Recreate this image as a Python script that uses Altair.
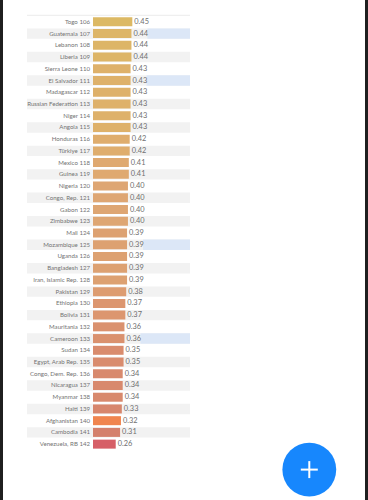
import altair as alt
import pandas as pd

# Countries ranked 106-142 and their index scores
countries = [
    "Togo", "Guatemala", "Lebanon", "Liberia", "Sierra Leone", "El Salvador",
    "Madagascar", "Russian Federation", "Niger", "Angola", "Honduras", "Türkiye",
    "Mexico", "Guinea", "Nigeria", "Congo, Rep.", "Gabon", "Zimbabwe", "Mali",
    "Mozambique", "Uganda", "Bangladesh", "Iran, Islamic Rep.", "Pakistan",
    "Ethiopia", "Bolivia", "Mauritania", "Cameroon", "Sudan", "Egypt, Arab Rep.",
    "Congo, Dem. Rep.", "Nicaragua", "Myanmar", "Haiti", "Afghanistan",
    "Cambodia", "Venezuela, RB",
]
ranks = list(range(106, 143))
scores = [
    0.45, 0.44, 0.44, 0.44, 0.43, 0.43, 0.43, 0.43, 0.43, 0.43, 0.42, 0.42,
    0.41, 0.41, 0.40, 0.40, 0.40, 0.40, 0.39, 0.39, 0.39, 0.39, 0.39, 0.38,
    0.37, 0.37, 0.36, 0.36, 0.35, 0.35, 0.34, 0.34, 0.34, 0.33, 0.32, 0.31,
    0.26,
]
highlighted = ["Guatemala", "El Salvador", "Mozambique", "Cameroon"]
accent = "Afghanistan"

df = pd.DataFrame({"country": countries, "rank": ranks, "score": scores})
df["label"] = df["country"] + " " + df["rank"].astype(str)
df["row"] = range(len(df))
df["striped"] = df["row"] % 2 == 1
df["highlight"] = df["country"].isin(highlighted)

order = df["label"].tolist()
y_enc = alt.Y("label:N", sort=order, axis=None,
              scale=alt.Scale(paddingInner=0, paddingOuter=0))
x_scale = alt.Scale(domain=[0, 1.11], nice=False, zero=True)

base = alt.Chart(df)

stripes = base.transform_filter("datum.striped").mark_bar(
    size=10.4, color="#f2f2f2"
).encode(y=y_enc, x=alt.value(-66), x2=alt.value(97))

blue = base.transform_filter("datum.highlight").transform_calculate(
    start="datum.score + 0.183", stop="1.11"
).mark_bar(size=10.4, color="#dce7f7").encode(
    y=y_enc,
    x=alt.X("start:Q", scale=x_scale, axis=None),
    x2="stop:Q",
)

color_scale = alt.Scale(
    domain=[0.26, 0.31, 0.35, 0.40, 0.45],
    range=["#d65f67", "#d4806c", "#d98c6e", "#dea673", "#dcb964"],
)
bars = base.mark_bar(size=9).encode(
    y=y_enc,
    x=alt.X("score:Q", scale=x_scale, axis=None),
    color=alt.condition(
        alt.datum.country == accent,
        alt.value("#f0854f"),
        alt.Color("score:Q", scale=color_scale, legend=None),
    ),
)

values = base.mark_text(
    align="left", baseline="middle", dx=2, font="Lato", fontSize=7.4,
    color="#707070",
).encode(
    y=y_enc,
    x=alt.X("score:Q", scale=x_scale, axis=None),
    text=alt.Text("score:Q", format=".2f"),
)

names = base.mark_text(
    align="right", baseline="middle", dx=-3, font="Lato", fontSize=6.1,
    color="#737373",
).encode(y=y_enc, x=alt.value(0), text="label:N")

one = alt.Chart(pd.DataFrame({"k": [0]}))

top_line = one.mark_rule(color="#ececec", strokeWidth=1).encode(
    x=alt.value(-66), x2=alt.value(97), y=alt.value(-0.7)
)

# Phone frame edges
frame_left = one.mark_rect(color="#1f1f1f").encode(
    x=alt.value(-93), x2=alt.value(-90), y=alt.value(-16), y2=alt.value(484)
)
frame_right = one.mark_rect(color="#1f1f1f").encode(
    x=alt.value(272), x2=alt.value(275), y=alt.value(-16), y2=alt.value(484)
)

# Floating "add" button
fab = one.mark_circle(color="#1787fd", opacity=1, size=2900).encode(
    x=alt.value(216.3), y=alt.value(453.6)
)
plus_h = one.mark_rule(color="white", strokeWidth=2).encode(
    x=alt.value(207.8), x2=alt.value(224.8), y=alt.value(453.6)
)
plus_v = one.mark_rule(color="white", strokeWidth=2).encode(
    x=alt.value(216.3), y=alt.value(445.1), y2=alt.value(462.1)
)

chart = alt.layer(
    stripes, blue, top_line, bars, values, names,
    frame_left, frame_right, fab, plus_h, plus_v,
).properties(
    width=97, height=434,
    padding={"left": 93, "top": 16, "right": 178, "bottom": 50},
    autosize="none",
    background="white",
).configure_view(stroke=None)

chart.save("out.html", embed_options={"renderer": "svg", "actions": False})
